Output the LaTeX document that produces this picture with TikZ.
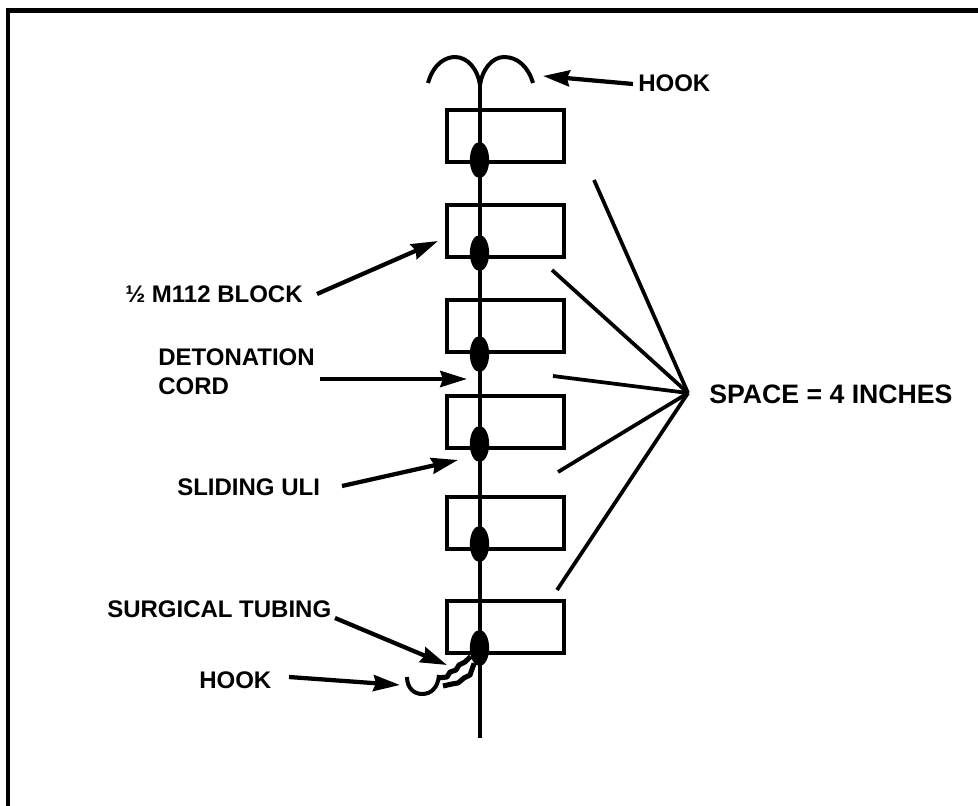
\documentclass[tikz,border=0pt]{standalone}
\usepackage{fontspec}
\setmainfont{Liberation Sans}
\usetikzlibrary{arrows.meta,shapes.geometric}
\tikzset{
  blockbox/.style={draw,line width=3pt,fill=none,minimum width=87.75pt,minimum height=39pt,inner sep=0pt},
  uliknot/.style={draw=none,fill=black,ellipse,minimum width=14.5pt,minimum height=27pt,inner sep=0pt},
  lbl/.style={font=\bfseries\fontsize{18}{21}\selectfont,inner sep=0pt},
  biglbl/.style={font=\bfseries\fontsize{20}{24}\selectfont,inner sep=0pt},
  pointer/.style={line width=3.2pt,-{Stealth[length=20pt,width=12pt,inset=2pt]}},
  spoke/.style={line width=2.8pt},
  cordline/.style={line width=3pt},
  tubing/.style={line width=3.8pt,line join=round},
}
\begin{document}
\begin{tikzpicture}[x=0.75pt,y=0.75pt,yscale=-1,xscale=1]
\useasboundingbox (0,0) rectangle (978,806);
%frame
\coordinate (frameTR) at (978,10.5);
\coordinate (frameTL) at (8,10.5);
\coordinate (frameBL) at (8,806);
\draw [line width=3.4pt] (frameTR) -- (frameTL) -- (frameBL);

%cord
\coordinate (cordTop) at (480,85);
\coordinate (cordEnd) at (480,738);
\draw [cordline] (cordTop) -- (cordEnd);

%blocks
\node [blockbox] (blockA) at (505.5,136) {};
\node [blockbox] (blockB) at (505.5,231) {};
\node [blockbox] (blockC) at (505.5,326) {};
\node [blockbox] (blockD) at (505.5,422) {};
\node [blockbox] (blockE) at (505.5,523) {};
\node [blockbox] (blockF) at (505.5,627) {};

%sliding ulis
\node [uliknot] (knotA) at (479.5,160) {};
\node [uliknot] (knotB) at (479.5,253) {};
\node [uliknot] (knotC) at (479.5,354) {};
\node [uliknot] (knotD) at (479.5,444) {};
\node [uliknot] (knotE) at (479.5,544) {};
\node [uliknot] (knotF) at (479.5,648) {};

%top hook
\coordinate (hookL) at (428,83);
\coordinate (hookR) at (533,83);
\draw [cordline] (hookL) .. controls (434,62) and (447,57) .. (455,57) .. controls (468,57) and (478,70) .. (cordTop) .. controls (482,70) and (492,57) .. (504,57) .. controls (517,57) and (528,66) .. (hookR);

%bottom hook and tubing
\coordinate (lowHookA) at (407,677);
\coordinate (lowHookB) at (439,675);
\draw [cordline] (lowHookA) .. controls (407,688) and (414,694) .. (422,694) .. controls (431,694) and (438,688) .. (lowHookB);
\draw [tubing] (438,678) -- (447,677) -- (450,672) -- (456,670) -- (459,665) -- (465,662) -- (knotF);
\draw [tubing] (443,686) -- (452,684) -- (458,683) -- (464,678) -- (470,675) -- (knotF);

%labels
\node [lbl,anchor=west] (hookTop) at (638,83) {HOOK};
\node [lbl,anchor=west] (halfBlock) at (125,294) {½ M112 BLOCK};
\node [lbl,anchor=west] (detCordA) at (158,357) {DETONATION};
\node [lbl,anchor=west] (detCordB) at (158,386) {CORD};
\node [lbl,anchor=west] (slidingUli) at (177,487) {SLIDING ULI};
\node [lbl,anchor=west] (tubingLbl) at (107,609) {SURGICAL TUBING};
\node [lbl,anchor=west] (hookLow) at (199,680) {HOOK};
\node [biglbl,anchor=west] (spaceLbl) at (709,394) {SPACE = 4 INCHES};

%arrows
\coordinate (tailHookTop) at (633,84);
\coordinate (tipHookTop) at (543,76);
\coordinate (tailBlock) at (317,294);
\coordinate (tipBlock) at (438,241);
\coordinate (tailCord) at (320,379);
\coordinate (tipCord) at (467,379);
\coordinate (tailUli) at (342,486);
\coordinate (tipUli) at (458,460);
\coordinate (tailTubing) at (335,618);
\coordinate (tipTubing) at (447,665);
\coordinate (tailHookLow) at (289,677);
\coordinate (tipHookLow) at (400,685);
\draw [pointer] (tailHookTop) -- (tipHookTop);
\draw [pointer] (tailBlock) -- (tipBlock);
\draw [pointer] (tailCord) -- (tipCord);
\draw [pointer] (tailUli) -- (tipUli);
\draw [pointer] (tailTubing) -- (tipTubing);
\draw [pointer] (tailHookLow) -- (tipHookLow);

%spokes
\coordinate (hub) at (688,393);
\coordinate (spokeA) at (594,180);
\coordinate (spokeB) at (552,270);
\coordinate (spokeC) at (553,376);
\coordinate (spokeD) at (558,472);
\coordinate (spokeE) at (557,590);
\foreach \s in {spokeA,spokeB,spokeC,spokeD,spokeE}
  \draw [spoke] (hub) -- (\s);
\end{tikzpicture}
\end{document}
